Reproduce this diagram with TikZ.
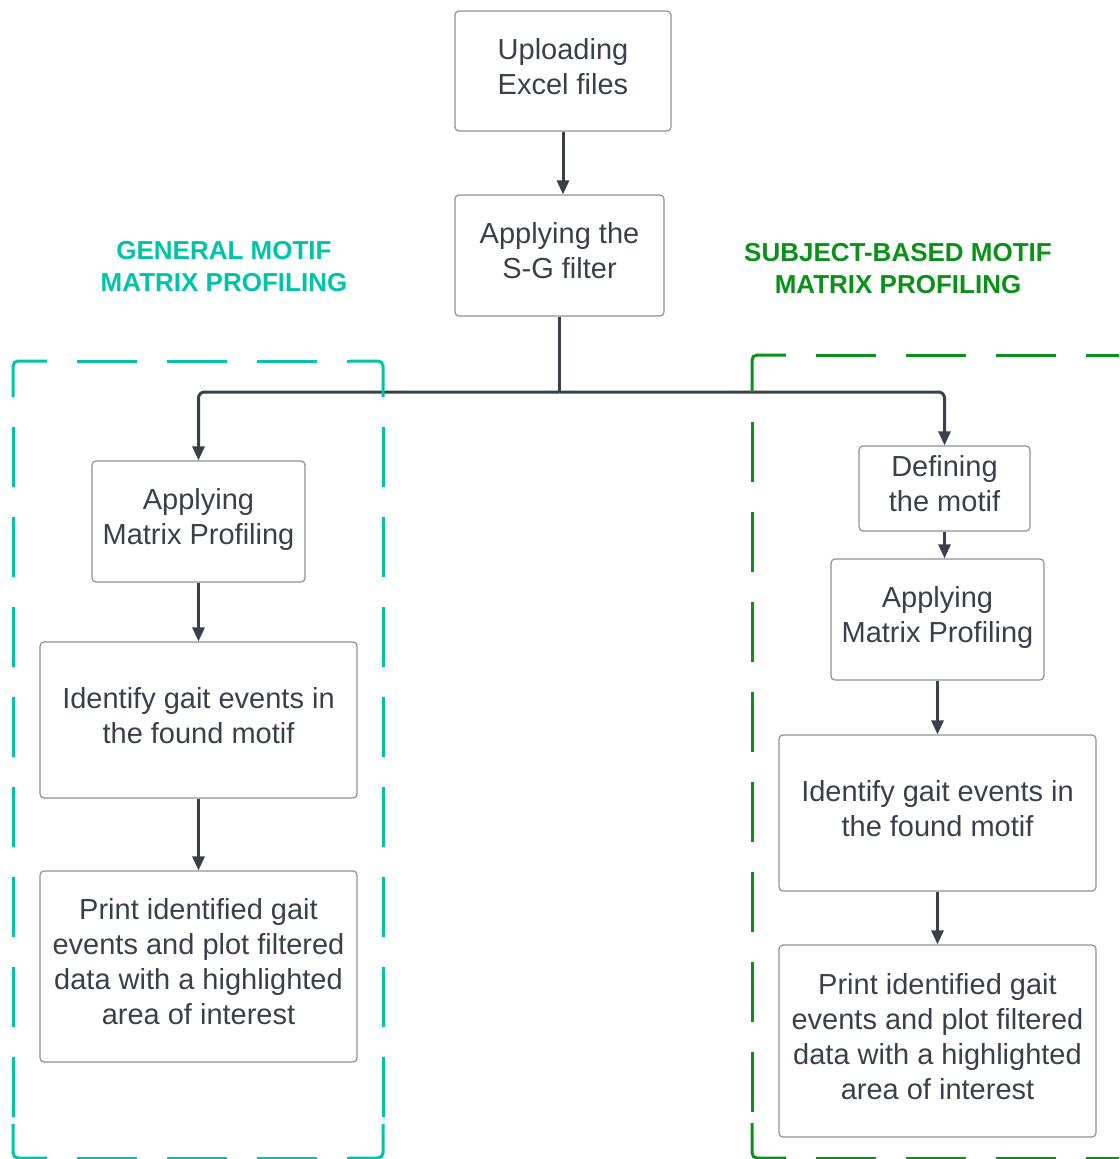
\documentclass[tikz,border=0pt]{standalone}
\usepackage{fontspec}
\setmainfont{Liberation Sans}
\usetikzlibrary{arrows.meta}
\definecolor{txt}{HTML}{3A404A}
\definecolor{ln}{HTML}{3A404A}
\definecolor{bd}{HTML}{8E9097}
\definecolor{tealA}{HTML}{00C4A7}
\definecolor{greenA}{HTML}{0A9118}
\begin{document}
\begin{tikzpicture}[x=1pt,y=-1pt,
 box/.style={draw=bd, line width=1.2pt, rounded corners=4pt, align=center, text=txt,
   font=\fontsize{29}{35}\selectfont, inner sep=0pt,
   execute at end node={\rule[-10pt]{0pt}{10pt}}},
 conn/.style={draw=ln, line width=3pt},
 arr/.style={conn, -{Triangle[length=14pt,width=12pt]}},
 lbl/.style={font=\fontsize{26}{32}\selectfont\bfseries, align=center},
 dsh/.style={line width=3pt, dash pattern=on 60pt off 30pt, dash phase=60pt},
 crn/.style={line width=3pt, rounded corners=5pt}
]
\useasboundingbox (0,0) rectangle (1119,1159);
\clip (0,0) rectangle (1119,1159);

% boxes
\node[box, minimum width=216pt, minimum height=120pt] (up) at (563,71) {Uploading\\Excel files};
\node[box, minimum width=209pt, minimum height=121pt] (sg) at (559.5,255.5) {Applying the\\S-G filter};

\node[box, minimum width=213pt, minimum height=121pt] (amp1) at (198.5,521.5) {Applying\\Matrix Profiling};
\node[box, minimum width=317pt, minimum height=156pt] (id1) at (198.5,720) {Identify gait events in\\the found motif};
\node[box, minimum width=317pt, minimum height=191pt] (pr1) at (198.5,966.5) {Print identified gait\\events and plot filtered\\data with a highlighted\\area of interest};

\node[box, minimum width=171pt, minimum height=85pt] (def) at (944.5,488.5) {Defining\\the motif};
\node[box, minimum width=213pt, minimum height=121pt] (amp2) at (937.5,619.5) {Applying\\Matrix Profiling};
\node[box, minimum width=317pt, minimum height=156pt] (id2) at (937.5,813) {Identify gait events in\\the found motif};
\node[box, minimum width=317pt, minimum height=192pt] (pr2) at (937.5,1041) {Print identified gait\\events and plot filtered\\data with a highlighted\\area of interest};

% labels
\node[lbl, text=tealA] (gen) at (224,267) {GENERAL MOTIF\\MATRIX PROFILING};
\node[lbl, text=greenA] (sub) at (898,269) {SUBJECT-BASED MOTIF\\MATRIX PROFILING};

% connectors
\coordinate (j) at (559.5,392);
\draw[arr] (up.south) -- (up.south |- sg.north);
\draw[conn] (sg.south) -- (j);
\draw[arr, rounded corners=6pt] (j) -| (amp1.north);
\draw[arr, rounded corners=6pt] (j) -| (def.north);
\draw[arr] (amp1.south) -- (id1.north);
\draw[arr] (id1.south) -- (pr1.north);
\draw[arr] (def.south) -- (def.south |- amp2.north);
\draw[arr] (amp2.south) -- (id2.north);
\draw[arr] (id2.south) -- (pr2.north);

% general (teal) dashed frame
\begin{scope}[tealA]
\draw[crn] (13,397) -- (13,361) -- (47,361);
\draw[crn] (349,361) -- (383,361) -- (383,397);
\draw[crn] (13,1124) -- (13,1158) -- (47,1158);
\draw[crn] (349,1158) -- (383,1158) -- (383,1124);
\draw[dsh] (47,361) -- (349,361);
\draw[dsh] (47,1158) -- (349,1158);
\draw[dsh] (13,397) -- (13,1124);
\draw[dsh] (383,397) -- (383,1124);
\end{scope}

% subject-based (green) dashed frame
\begin{scope}[greenA]
\draw[crn] (752,392) -- (752,355) -- (786,355);
\draw[crn] (752,1123) -- (752,1158) -- (786,1158);
\draw[dsh] (786,355) -- (1140,355);
\draw[dsh] (786,1158) -- (1140,1158);
\draw[dsh] (752,392) -- (752,1123);
\end{scope}
\end{tikzpicture}
\end{document}
